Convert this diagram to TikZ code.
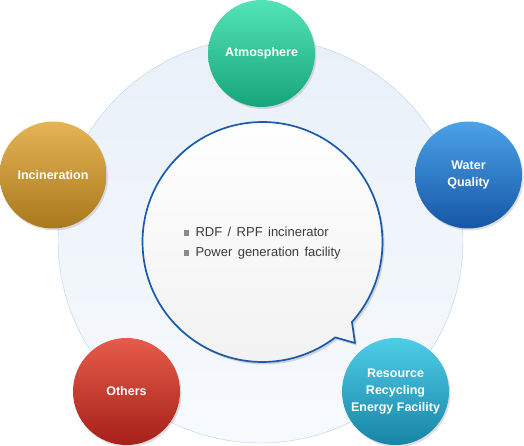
\documentclass[tikz,border=0pt]{standalone}
\usepackage{fontspec}
\setmainfont{Liberation Sans}
\newfontfamily\listfont{Liberation Sans}[WordSpace=1.5]
\usetikzlibrary{positioning,calc,shadows}
\definecolor{ringline}{HTML}{B6D1EE}
\definecolor{ringtop}{HTML}{E9F0F9}
\definecolor{ringbot}{HTML}{F7FAFD}
\definecolor{bubbleline}{HTML}{1A5AAC}
\definecolor{bubblebot}{HTML}{F1F1F1}
\definecolor{bulletgray}{HTML}{8A8A8A}
\definecolor{itemgray}{HTML}{3C3C3C}
\definecolor{atmotop}{HTML}{52E4B6}
\definecolor{atmobot}{HTML}{17A47A}
\definecolor{watertop}{HTML}{4CA2E8}
\definecolor{waterbot}{HTML}{1556A6}
\definecolor{incintop}{HTML}{E6B455}
\definecolor{incinbot}{HTML}{A8781C}
\definecolor{otherstop}{HTML}{E65C4A}
\definecolor{othersbot}{HTML}{A6201A}
\definecolor{recyctop}{HTML}{4ECDE8}
\definecolor{recycbot}{HTML}{1884A6}

\begin{document}
\begin{tikzpicture}[x=1pt,y=1pt,topic/.style={circle,minimum size=107pt,inner sep=0pt,text=white,align=center,font=\bfseries\fontsize{12.5}{17}\selectfont,drop shadow={opacity=0.25,shadow xshift=1.5pt,shadow yshift=-2pt}}]
    \useasboundingbox (0,0) rectangle (524,446);
    \draw[ringline,top color=ringtop,bottom color=ringbot] (260.5,205.5) circle[radius=202.5];
    \coordinate (mid) at (262.5,204); \coordinate (tip) at (355,103);
    \draw[bubbleline,line width=1.7pt,line join=round,top color=white,bottom color=bubblebot,drop shadow={opacity=0.3,shadow xshift=2pt,shadow yshift=-2.5pt}] ($(mid)+(-41.8:120)$) arc[start angle=-41.8,end angle=307.35,radius=120] -- (tip) -- cycle;
    \node[right,align=left,text=itemgray,font=\listfont\fontsize{13}{20}\selectfont] (items) at (180,203) {\textcolor{bulletgray}{\rule[0.5pt]{5.5pt}{5.5pt}}\enspace RDF / RPF incinerator\\\textcolor{bulletgray}{\rule[0.5pt]{5.5pt}{5.5pt}}\enspace Power generation facility};
    \node[topic,top color=atmotop,bottom color=atmobot] (atmo) at (261.5,392.5) {Atmosphere};
    \node[topic,top color=incintop,bottom color=incinbot] (incin) at (53,271) {Incineration};
    \node[topic,top color=watertop,bottom color=waterbot] (water) at (468.5,271) {Water\\Quality};
    \node[topic,top color=otherstop,bottom color=othersbot] (others) at (126.5,54.5) {Others};
    \node[topic,top color=recyctop,bottom color=recycbot] (recyc) at (395.5,54.5) {Resource\\Recycling\\Energy Facility};
  \end{tikzpicture}
\end{document}
